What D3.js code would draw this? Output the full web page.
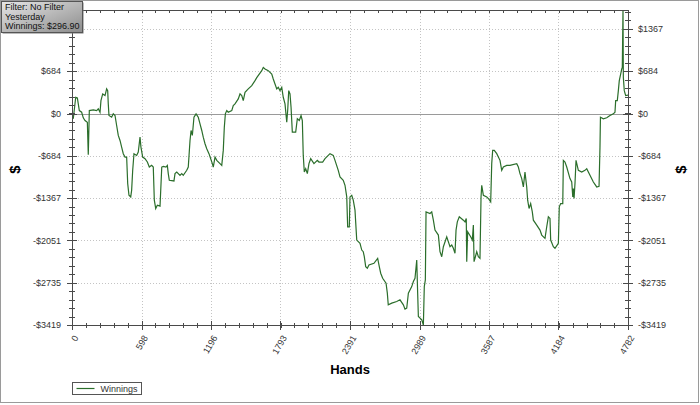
<!DOCTYPE html>
<html>
<head>
<meta charset="utf-8">
<script src="https://d3js.org/d3.v7.min.js"></script>
<style>
  body { margin: 0; background: #fff; }
  text { font-family: "Liberation Sans", Arial, sans-serif; }
</style>
</head>
<body>
<div id="chart"></div>
<script>
// hand number and running winnings ($)
var hands = [0, 11, 32, 46, 54, 63, 83, 97, 112, 132, 140, 149, 183, 212, 226, 241, 249, 264, 284, 298,
  307, 312, 318, 341, 355, 370, 384, 398, 413, 427, 441, 456, 470, 479, 490, 505, 513, 522, 533, 556,
  570, 585, 593, 608, 628, 648, 665, 685, 699, 708, 720, 734, 757, 772, 785, 808, 820, 828, 837, 877,
  886, 901, 929, 944, 957, 987, 1000, 1015, 1024, 1035, 1049, 1067, 1086, 1101, 1116, 1129, 1144, 1159, 1178, 1193,
  1207, 1215, 1230, 1245, 1273, 1288, 1301, 1310, 1319, 1331, 1344, 1374, 1387, 1402, 1430, 1445, 1460, 1473, 1488, 1516,
  1546, 1574, 1589, 1632, 1645, 1660, 1688, 1718, 1731, 1746, 1761, 1774, 1789, 1804, 1817, 1832, 1847, 1855, 1864, 1875,
  1884, 1895, 1924, 1938, 1955, 1970, 1981, 1989, 1998, 2010, 2024, 2038, 2053, 2081, 2110, 2124, 2156, 2176, 2204, 2219,
  2247, 2262, 2290, 2305, 2333, 2348, 2363, 2371, 2385, 2391, 2406, 2419, 2434, 2443, 2449, 2477, 2492, 2505, 2514, 2526,
  2540, 2554, 2597, 2629, 2643, 2655, 2672, 2701, 2712, 2720, 2750, 2793, 2821, 2850, 2864, 2879, 2893, 2922, 2936, 2950,
  2965, 2973, 2979, 3008, 3022, 3030, 3039, 3045, 3079, 3094, 3108, 3122, 3151, 3165, 3180, 3194, 3223, 3251, 3266, 3280,
  3294, 3303, 3314, 3331, 3366, 3380, 3391, 3395, 3403, 3429, 3443, 3452, 3458, 3466, 3481, 3495, 3509, 3518, 3524, 3538,
  3567, 3581, 3601, 3610, 3618, 3632, 3653, 3681, 3696, 3710, 3739, 3767, 3825, 3839, 3853, 3868, 3882, 3896, 3911, 3919,
  3931, 3945, 3959, 3968, 3997, 4025, 4040, 4068, 4083, 4097, 4111, 4117, 4140, 4154, 4183, 4191, 4203, 4221, 4226, 4240,
  4255, 4283, 4298, 4307, 4312, 4318, 4326, 4335, 4355, 4384, 4412, 4427, 4455, 4484, 4513, 4533, 4541, 4545, 4570, 4599,
  4627, 4656, 4670, 4676, 4690, 4699, 4707, 4722, 4728, 4733, 4739, 4742, 4750, 4762, 4782];

var winnings = [0, -85, 263, 253, 156, 48, 21, -69, -113, -140, -665, 48, 60, 48, 76, 21, 209, 317, 290, 398,
  370, 156, -32, -60, -5, -32, -193, -354, -435, -543, -649, -704, -704, -1132, -1321, -1348, -1240, -918, -649, -677,
  -623, -382, -543, -704, -730, -784, -865, -838, -865, -1401, -1535, -1482, -1498, -865, -854, -865, -838, -971, -1079, -1090,
  -971, -945, -999, -971, -999, -918, -865, -435, -274, -354, -60, -5, -60, -166, -274, -382, -488, -569, -649, -730,
  -810, -865, -704, -757, -810, -838, -596, -221, -5, 48, 21, 48, 129, 156, 237, 317, 290, 209, 343, 398,
  451, 532, 580, 693, 746, 720, 693, 639, 559, 478, 398, 424, 370, 424, 263, 156, -140, 48, 370, 317,
  101, -301, -301, -85, -113, -32, -113, -677, -945, -891, -971, -810, -730, -810, -757, -784, -784, -730, -677, -649,
  -677, -757, -918, -1026, -1079, -1160, -1348, -1831, -1831, -1348, -1321, -1401, -1562, -1857, -2046, -2099, -2207, -2234, -2315, -2476,
  -2502, -2448, -2421, -2341, -2476, -2582, -2663, -2743, -2904, -3093, -3065, -3040, -3012, -3093, -3162, -3146, -2904, -2798, -2717, -2663,
  -2368, -2904, -3281, -3334, -3419, -2798, -2690, -1590, -1616, -1590, -1724, -1885, -1965, -2234, -2315, -2154, -1993, -2154, -2126, -2179,
  -2260, -1885, -1751, -1670, -1724, -1751, -1696, -2395, -1912, -1993, -2046, -1804, -2395, -2341, -2234, -2315, -2341, -1348, -1160, -1321,
  -1348, -1374, -1429, -810, -596, -596, -649, -757, -918, -865, -838, -838, -810, -865, -971, -1052, -1187, -945, -1187, -1401,
  -1535, -1455, -1590, -1724, -1804, -1885, -1965, -2018, -1831, -1670, -1696, -2046, -2154, -2179, -2099, -1509, -1455, -1455, -757, -784,
  -865, -1052, -1107, -1348, -1213, -1374, -1132, -757, -918, -945, -918, -891, -999, -1107, -1187, -1176, -543, -60, -85, -69,
  -32, -5, 21, 209, 209, 370, 532, 665, 720, 746, 1674, 585, 370, 290, 296.9];

// axis ticks and their labels
var xTicks = [0, 598, 1196, 1793, 2391, 2989, 3587, 4184, 4782];
var yTicks = [-3419, -2735, -2051, -1367, -684, 0, 684, 1367];
var yTickLabels = ["-$3419", "-$2735", "-$2051", "-$1367", "-$684", "$0", "$684", "$1367"];

var infoLines = ["Filter: No Filter", "Yesterday", "Winnings: $296.90"];
var seriesName = "Winnings";

// svg container
var svgWidth = 700;
var svgHeight = 405;

var plot = { left: 72, right: 628, top: 10, bottom: 325 };

var svg = d3.select("#chart")
  .append("svg")
  .attr("width", svgWidth)
  .attr("height", svgHeight);

// outer frame
svg.append("rect")
  .attr("x", 0.5).attr("y", 0.5)
  .attr("width", svgWidth - 2).attr("height", svgHeight - 3)
  .attr("fill", "#fff")
  .attr("stroke", "#9a9a9a");

// scales
var xScale = d3.scaleLinear()
  .domain([0, d3.max(hands)])
  .range([plot.left, plot.right]);

var yScale = d3.scaleLinear()
  .domain([d3.min(winnings), d3.max(winnings)])
  .range([plot.bottom, plot.top]);

// minor ticks: four between each pair of major ticks
function minors(majors, top) {
  var out = [];
  var step = (majors[1] - majors[0]) / 5;
  for (var v = majors[0]; v <= top + 0.01; v += step) out.push(v);
  return out;
}
var xMinor = minors(xTicks, d3.max(hands));
var yMinor = minors(yTicks, d3.max(winnings));

var grid = svg.append("g");

// dotted gridlines
grid.selectAll(".vgrid")
  .data(xTicks.slice(1, -1))
  .enter().append("line")
  .attr("x1", d => Math.round(xScale(d)) + 0.5)
  .attr("x2", d => Math.round(xScale(d)) + 0.5)
  .attr("y1", plot.top).attr("y2", plot.bottom)
  .attr("stroke", "#c4c4c4")
  .attr("stroke-dasharray", "1,2");

grid.selectAll(".hgrid")
  .data(yTicks.filter(d => d !== 0 && d !== yTicks[0]))
  .enter().append("line")
  .attr("x1", plot.left).attr("x2", plot.right)
  .attr("y1", d => Math.round(yScale(d)) + 0.5)
  .attr("y2", d => Math.round(yScale(d)) + 0.5)
  .attr("stroke", "#c4c4c4")
  .attr("stroke-dasharray", "1,2");

// zero line
grid.append("line")
  .attr("x1", plot.left).attr("x2", plot.right)
  .attr("y1", Math.round(yScale(0)) + 0.5)
  .attr("y2", Math.round(yScale(0)) + 0.5)
  .attr("stroke", "#9a9a9a");

// the winnings line
svg.append("clipPath").attr("id", "clip")
  .append("rect")
  .attr("x", plot.left).attr("y", plot.top)
  .attr("width", plot.right - plot.left).attr("height", plot.bottom - plot.top);

var line = d3.line()
  .x((d, i) => xScale(hands[i]))
  .y(d => yScale(d));

svg.append("path")
  .datum(winnings)
  .attr("clip-path", "url(#clip)")
  .attr("fill", "none")
  .attr("stroke", "#2b6e2b")
  .attr("stroke-width", 1.2)
  .attr("d", line);

// axes
var axisColor = "#4a4a4a";
var tickSize = 5, minorSize = 3;

function crossTicks(g, values, isMajor, orient) {
  var len = isMajor ? tickSize : minorSize;
  g.selectAll(null)
    .data(values)
    .enter().append("line")
    .each(function(d) {
      var el = d3.select(this);
      if (orient === "x") {
        var x = Math.round(xScale(d)) + 0.5;
        el.attr("x1", x).attr("x2", x).attr("y1", plot.bottom - len + 1).attr("y2", plot.bottom + len);
      } else if (orient === "top") {
        var xt = Math.round(xScale(d)) + 0.5;
        el.attr("x1", xt).attr("x2", xt).attr("y1", plot.top).attr("y2", plot.top + len);
      } else {
        var y = Math.round(yScale(d)) + 0.5;
        var ax = orient === "left" ? plot.left : plot.right;
        el.attr("x1", ax - len).attr("x2", ax + len).attr("y1", y).attr("y2", y);
      }
    })
    .attr("stroke", axisColor);
}

var axes = svg.append("g");

axes.append("rect")
  .attr("x", plot.left + 0.5).attr("y", plot.top + 0.5)
  .attr("width", plot.right - plot.left).attr("height", plot.bottom - plot.top)
  .attr("fill", "none")
  .attr("stroke", axisColor);

crossTicks(axes, xMinor, false, "x");
crossTicks(axes, xTicks, true, "x");
crossTicks(axes, xMinor, false, "top");
crossTicks(axes, yMinor, false, "left");
crossTicks(axes, yTicks, true, "left");
crossTicks(axes, yMinor, false, "right");
crossTicks(axes, yTicks, true, "right");

// tick labels (the top left one sits under the info box, so it is left out)
var labelColor = "#333";

axes.selectAll(".ylab-left")
  .data(yTicks.slice(0, -1))
  .enter().append("text")
  .attr("x", plot.left - 11)
  .attr("y", d => yScale(d))
  .attr("dy", "0.35em")
  .attr("text-anchor", "end")
  .attr("font-size", 9)
  .attr("fill", labelColor)
  .text((d, i) => yTickLabels[i]);

axes.selectAll(".ylab-right")
  .data(yTicks)
  .enter().append("text")
  .attr("x", plot.right + 10)
  .attr("y", d => yScale(d))
  .attr("dy", "0.35em")
  .attr("text-anchor", "start")
  .attr("font-size", 9)
  .attr("fill", labelColor)
  .text((d, i) => yTickLabels[i]);

axes.selectAll(".xlab")
  .data(xTicks)
  .enter().append("text")
  .attr("transform", d => `translate(${xScale(d) + 4}, ${plot.bottom + 11}) rotate(-60)`)
  .attr("dy", "0.35em")
  .attr("text-anchor", "end")
  .attr("font-size", 9)
  .attr("fill", labelColor)
  .text(d => d);

// axis titles
svg.append("text")
  .attr("x", (plot.left + plot.right) / 2)
  .attr("y", 374)
  .attr("text-anchor", "middle")
  .attr("font-size", 13)
  .attr("font-weight", "bold")
  .text("Hands");

svg.append("text")
  .attr("transform", `translate(15, ${(plot.top + plot.bottom) / 2 + 2}) rotate(-90)`)
  .attr("text-anchor", "middle")
  .attr("dy", "0.35em")
  .attr("font-size", 15)
  .attr("font-weight", "bold")
  .text("$");

svg.append("text")
  .attr("transform", `translate(681, ${(plot.top + plot.bottom) / 2 + 2}) rotate(-90)`)
  .attr("text-anchor", "middle")
  .attr("dy", "0.35em")
  .attr("font-size", 15)
  .attr("font-weight", "bold")
  .text("$");

// legend
var legend = svg.append("g").attr("transform", "translate(72.5, 382.5)");
legend.append("rect")
  .attr("width", 69).attr("height", 12)
  .attr("fill", "#fff")
  .attr("stroke", "#555");
legend.append("line")
  .attr("x1", 4).attr("x2", 22).attr("y1", 6).attr("y2", 6)
  .attr("stroke", "#2b6e2b").attr("stroke-width", 1.2);
legend.append("text")
  .attr("x", 28).attr("y", 6).attr("dy", "0.35em")
  .attr("font-size", 9)
  .attr("fill", "#333")
  .text(seriesName);

// info box top left
var grad = svg.append("defs").append("linearGradient")
  .attr("id", "boxGrad")
  .attr("x1", 0).attr("y1", 0).attr("x2", 1).attr("y2", 1);
grad.append("stop").attr("offset", "0%").attr("stop-color", "#e6e6e6");
grad.append("stop").attr("offset", "100%").attr("stop-color", "#8c8c8c");

var info = svg.append("g");
info.append("rect")
  .attr("x", 2.5).attr("y", 2.5)
  .attr("width", 81).attr("height", 31)
  .attr("fill", "#777");
info.append("rect")
  .attr("x", 1.5).attr("y", 1.5)
  .attr("width", 81).attr("height", 31)
  .attr("fill", "url(#boxGrad)")
  .attr("stroke", "#555");
info.selectAll(".infoText")
  .data(infoLines)
  .enter().append("text")
  .attr("x", 5)
  .attr("y", (d, i) => 10 + i * 9.5)
  .attr("font-size", 9)
  .attr("fill", "#111")
  .text(d => d);
</script>
</body>
</html>
